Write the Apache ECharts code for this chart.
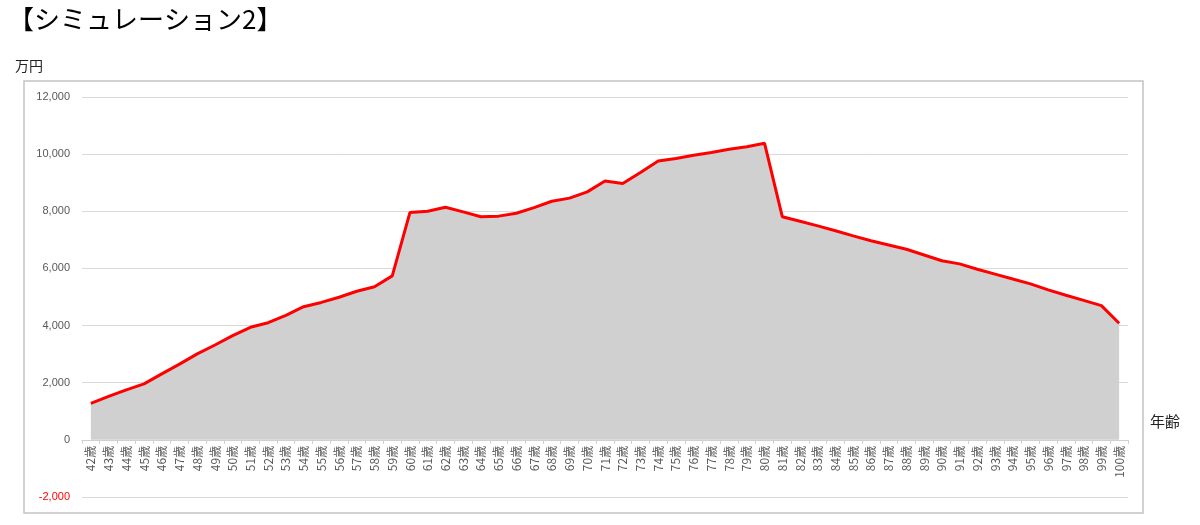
<!DOCTYPE html>
<html>
<head>
<meta charset="utf-8">
<script src="https://cdn.jsdelivr.net/npm/echarts@6/dist/echarts.min.js"></script>
<style>
html,body{margin:0;padding:0;background:#fff;}
#chart{width:1200px;height:525px;}
</style>
</head>
<body>
<div id="chart"></div>
<script>
const titleText = '【シミュレーション2】';
const yUnit = '万円';
const xUnit = '年齢';
const ages = [];
for (let a = 42; a <= 100; a++) ages.push(a + '歳');
const balance = [
  1280, 1520, 1750, 1960, 2310, 2650, 3010, 3320, 3650, 3940,
  4100, 4360, 4660, 4810, 4990, 5200, 5360, 5740, 7960, 8000,
  8140, 7980, 7810, 7830, 7930, 8130, 8350, 8460, 8680, 9060,
  8970, 9360, 9760, 9850, 9960, 10060, 10170, 10260, 10380, 7810,
  7650, 7490, 7320, 7140, 6970, 6820, 6670, 6470, 6270, 6160,
  5970, 5800, 5630, 5460, 5250, 5060, 4880, 4700, 4080
];
const yMin = -2000, yMax = 12000, yStep = 2000;

const gridTop = 97, gridBottom = 28, gridH = 525 - gridTop - gridBottom;
const zeroOffset = gridH * (0 - yMin) / (yMax - yMin);

const chart = echarts.init(document.getElementById('chart'));
chart.setOption({
  animation: false,
  backgroundColor: '#fff',
  graphic: [
    { type: 'rect', shape: { x: 24, y: 81, width: 1119, height: 432 },
      style: { fill: 'none', stroke: '#c4c4c4', lineWidth: 1.5 } },
    { type: 'text', left: 8, top: 6,
      style: { text: titleText, font: '26px "Noto Sans CJK JP"', fill: '#000' } },
    { type: 'text', left: 15, top: 59,
      style: { text: yUnit, font: '14px "Noto Sans CJK JP"', fill: '#222' } },
    { type: 'text', left: 1150, top: 414,
      style: { text: xUnit, font: '15px "Noto Sans CJK JP"', fill: '#222' } }
  ],
  grid: { left: 82, right: 72, top: gridTop, bottom: gridBottom, containLabel: false },
  xAxis: {
    type: 'category',
    data: ages,
    boundaryGap: true,
    position: 'bottom',
    offset: -zeroOffset,
    axisLine: { onZero: false, lineStyle: { color: '#d0d0d0', width: 1 } },
    axisTick: { show: true, alignWithLabel: false, length: 4, lineStyle: { color: '#d0d0d0' } },
    axisLabel: { rotate: 90, interval: 0, fontSize: 12, color: '#595959', margin: 6,
      fontFamily: '"Noto Sans CJK JP"' },
    splitLine: { show: false }
  },
  yAxis: {
    type: 'value',
    min: yMin, max: yMax, interval: yStep,
    axisLine: { show: false },
    axisTick: { show: false },
    axisLabel: {
      fontSize: 11, margin: 12, fontFamily: 'Liberation Sans',
      formatter: v => v.toLocaleString('en-US'),
      color: v => (Number(v) < 0 ? '#ff0000' : '#595959')
    },
    splitLine: { lineStyle: { color: '#d9d9d9', width: 1 } }
  },
  series: [{
    type: 'line',
    data: balance,
    symbol: 'none',
    lineStyle: { color: '#ff0000', width: 3 },
    areaStyle: { color: '#d0d0d0', opacity: 1 },
    z: 3
  }]
});
</script>
</body>
</html>
